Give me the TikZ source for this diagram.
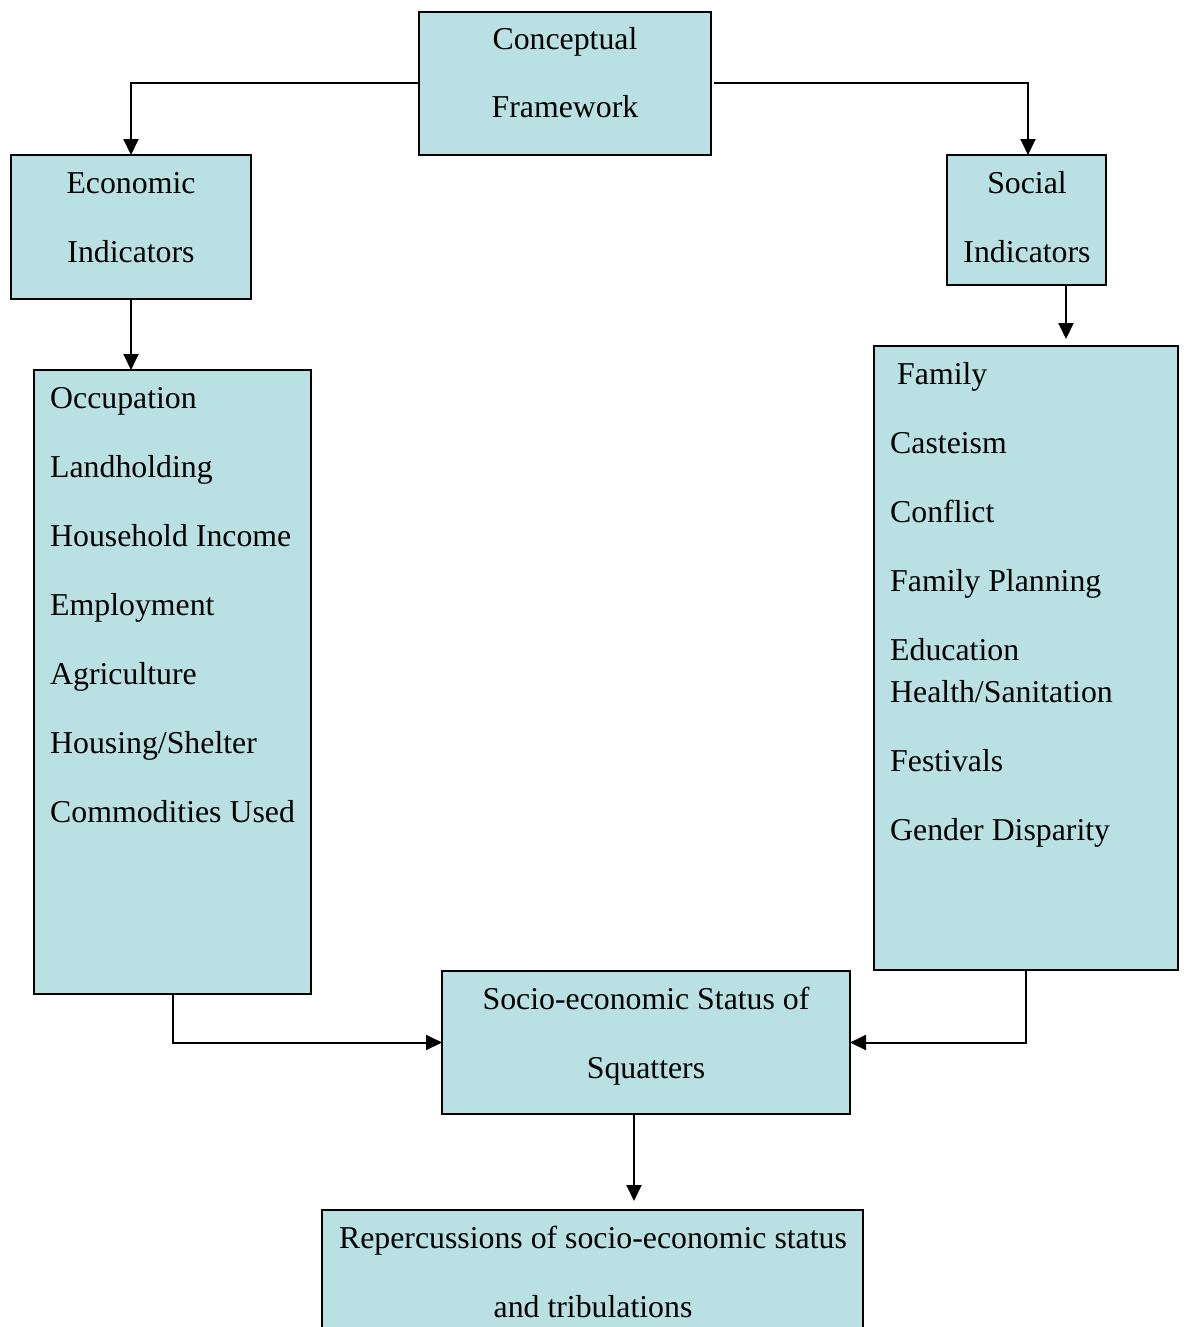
\documentclass[tikz,border=0pt]{standalone}
\usepackage{fontspec}
\setmainfont{Liberation Serif}
\usetikzlibrary{arrows.meta}
\definecolor{boxfill}{RGB}{185,224,227}
\begin{document}
\begin{tikzpicture}[x=1pt,y=-1pt,
  box/.style={draw=black,line width=2pt,fill=boxfill,inner sep=0pt,outer sep=0pt},
  txt/.style={inner sep=0pt,yshift=-8pt,text height=0.7em,text depth=0.22em,font=\fontsize{31.8}{38}\selectfont},
  arr/.style={line width=2pt,-{Triangle[length=16pt,width=15pt]}}]
\useasboundingbox (0,0) rectangle (1183,1327);
\clip (0,0) rectangle (1183,1327);
% boxes
\node[box,minimum width=292,minimum height=143] (cf) at (565,83.5) {};
\node[box,minimum width=240,minimum height=144] (econ) at (131,227) {};
\node[box,minimum width=159,minimum height=130] (soc) at (1026.5,220) {};
\node[box,minimum width=277,minimum height=624] (elist) at (172.5,682) {};
\node[box,minimum width=304,minimum height=624] (slist) at (1026,658) {};
\node[box,minimum width=408,minimum height=143] (ses) at (646,1042.5) {};
\node[box,minimum width=541,minimum height=143] (rep) at (592.5,1281.5) {};
% texts
\node[txt] (t1) at (565,39) {Conceptual};
\node[txt] (t2) at (565,107) {Framework};
\node[txt] (t3) at (131,183) {Economic};
\node[txt] (t4) at (131,252) {Indicators};
\node[txt] (t5) at (1027,183) {Social};
\node[txt] (t6) at (1027,252) {Indicators};
\node[txt] (t7) at (646,999) {Socio-economic Status of};
\node[txt] (t8) at (646,1068) {Squatters};
\node[txt] (t9) at (593,1238) {Repercussions of socio-economic status};
\node[txt] (t10) at (593,1307) {and tribulations};
% left list
\node[txt,anchor=west] (e1) at (50,398) {Occupation};
\node[txt,anchor=west] (e2) at (50,467) {Landholding};
\node[txt,anchor=west] (e3) at (50,536) {Household Income};
\node[txt,anchor=west] (e4) at (50,605) {Employment};
\node[txt,anchor=west] (e5) at (50,674) {Agriculture};
\node[txt,anchor=west] (e6) at (50,743) {Housing/Shelter};
\node[txt,anchor=west] (e7) at (50,812) {Commodities Used};
% right list
\node[txt,anchor=west] (s1) at (897,374) {Family};
\node[txt,anchor=west] (s2) at (890,443) {Casteism};
\node[txt,anchor=west] (s3) at (890,512) {Conflict};
\node[txt,anchor=west] (s4) at (890,581) {Family Planning};
\node[txt,anchor=west] (s5) at (890,650) {Education};
\node[txt,anchor=west] (s6) at (890,692) {Health/Sanitation};
\node[txt,anchor=west] (s7) at (890,761) {Festivals};
\node[txt,anchor=west] (s8) at (890,830) {Gender Disparity};
% connectors
\coordinate (sa) at (1066,339);
\coordinate (ra) at (634,1201);
\draw[arr] (cf.west) -| (econ.north);
\draw[arr] ([xshift=3pt]cf.east) -| ([xshift=1.5pt]soc.north);
\draw[arr] (econ.south) -- (econ.south |- elist.north);
\draw[arr] (sa |- soc.south) -- (sa);
\draw[arr] (elist.south) |- (ses.west);
\draw[arr] (slist.south) |- (ses.east);
\draw[arr] (ra |- ses.south) -- (ra);
\end{tikzpicture}
\end{document}
